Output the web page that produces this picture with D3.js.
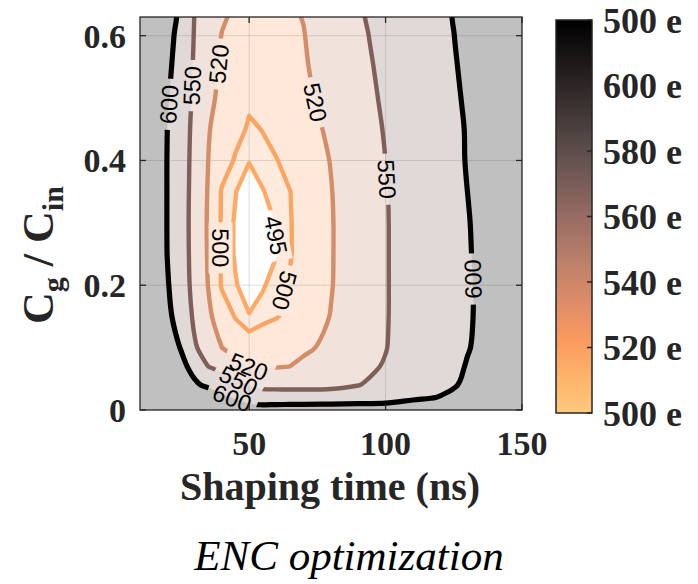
<!DOCTYPE html>
<html>
<head>
<meta charset="utf-8">
<script src="https://cdn.jsdelivr.net/npm/d3@7"></script>
<style>
  html, body { margin: 0; padding: 0; background: #ffffff; }
  svg { display: block; }
</style>
</head>
<body>
<svg id="chart" width="698" height="584"></svg>
<script>
// Shaping time (ns) sampled along the grid columns
const shapingTimes = [10, 20, 25, 30, 35, 40, 45, 50, 55, 60, 65, 70, 80, 90, 100, 110, 120, 130, 140, 150];
// Cg / Cin sampled along the grid rows (bottom to top)
const capRatios = [0, 0.02, 0.04, 0.07, 0.1, 0.15, 0.2, 0.25, 0.3, 0.35, 0.4, 0.45, 0.5, 0.55, 0.6, 0.65];
// ENC (electrons), one row per Cg/Cin value, one entry per shaping time
const encByRow = [
  [800, 760, 740, 720, 700, 680, 640, 615, 618, 620, 621, 622, 625, 621, 617, 625, 640, 650, 660, 670],
  [760, 710, 685, 660, 635, 610, 594.2, 584.6, 575, 574.4, 573.8, 573.2, 572, 579.3, 586.5, 593.8, 601.2, 609.1, 617.1, 625],
  [720, 664.2, 636.3, 608.4, 590, 575.7, 561.4, 547.5, 538, 537, 537, 537, 540, 549, 563.2, 577.8, 592.4, 604.3, 613.1, 622],
  [700, 642.9, 614.3, 582.9, 549.5, 538.2, 526.8, 519.5, 518.3, 518.9, 520, 524.4, 533.3, 542.2, 552, 568.9, 585.7, 601.7, 612.8, 624],
  [690, 628.8, 597.4, 553.5, 535.6, 520, 512.5, 505, 507.9, 510.8, 513.7, 516.5, 524.8, 536.9, 549, 565.3, 581.9, 598.5, 611.9, 625],
  [686, 612.5, 575.7, 544, 524, 509.6, 499, 495.3, 497.3, 499.2, 503.4, 509.1, 520.7, 534.4, 548.2, 564.2, 580.5, 596.8, 612.2, 626],
  [686, 604.1, 567.9, 539.9, 519.5, 498.3, 495.4, 492.5, 494.4, 497.3, 501.2, 507.1, 519, 533.5, 548.1, 564.2, 580.5, 596.8, 612.4, 628],
  [688, 599.3, 565.5, 538.9, 518.1, 498.2, 494.4, 490.5, 492.8, 494.8, 499.2, 505.3, 518.7, 533.3, 548.1, 564.4, 581, 597.5, 614.2, 631],
  [690, 598.6, 564.9, 538.5, 517.7, 498.2, 494.4, 490, 492.7, 495.3, 499.3, 505.3, 518.7, 533.3, 548.1, 564.6, 581.5, 598.3, 615.2, 632],
  [690, 598.7, 565.3, 539.1, 518.5, 498.6, 495.2, 491.5, 494.7, 497.3, 499.8, 506, 519.3, 533.9, 548.5, 565.5, 582.8, 600, 617, 634],
  [692, 598.7, 566.2, 540, 520, 507.3, 498.6, 495.3, 497.4, 499.5, 504.2, 509.6, 520.7, 535.4, 550, 567.2, 584.4, 601.6, 618.8, 636],
  [694, 600, 567.9, 541.2, 521.2, 512.4, 504.2, 498.5, 500.3, 504.6, 508.9, 513.2, 523.1, 537.3, 551.7, 568.4, 585.1, 602, 620, 638],
  [696, 604.6, 571.2, 543.6, 524.9, 515.1, 508.6, 502, 505.5, 509.1, 512.6, 516.1, 526.1, 539.7, 554, 570.5, 587.1, 604, 622, 640],
  [698, 611.3, 575.3, 545.9, 528.6, 517, 511, 505, 508.3, 511.5, 514.8, 518, 529.1, 542, 556.3, 572.7, 589.2, 606.1, 624.1, 642],
  [700, 618.7, 580.7, 547.9, 533.1, 519.3, 513.7, 508, 510.9, 513.7, 516.6, 519.4, 531.5, 544.4, 559, 575.1, 591.2, 608.1, 626, 644],
  [702, 626.4, 588.5, 550, 537.5, 525, 516.6, 511, 513.4, 515.7, 518.1, 521.3, 533.8, 546.3, 560.9, 576.6, 592.2, 609.2, 627.6, 646]
];

const contourLevels = [495, 500, 520, 550, 600];

const xTicks = [50, 100, 150];
const yTicks = [0, 0.2, 0.4, 0.6];
const yTickLabels = ["0", "0.2", "0.4", "0.6"];

const colorbarTicks = [500, 520, 540, 560, 580, 600, 620];
const colorbarTickLabels = ["500 e", "520 e", "540 e", "560 e", "580 e", "600 e", "500 e"];

// ---- styling ----
const lineColors = { 495: "#fdaa66", 500: "#fba563", 520: "#d38d69", 550: "#7e6059", 600: "#000000" };
const lineWidths = { 495: 4.4, 500: 4.4, 520: 4.4, 550: 4.4, 600: 5.2 };
const bandFills = { 495: "#feebdd", 500: "#fde8da", 520: "#f2e2dc", 550: "#e1d9d7", 600: "#c0c0c0" };
// outer levels are drawn as smooth curves, the two innermost keep their straight segments
const smoothLevels = [520, 550, 600];
const colormapStops = [
  [500, "#ffca7e"], [510, "#feb56c"], [522, "#fb9b5f"], [532, "#e38e67"],
  [545, "#bf816a"], [560, "#976c64"], [580, "#5d4e4b"], [600, "#2d2626"], [620, "#000000"]
];

// where along each contour its inline label sits (shaping time, Cg/Cin) and reading direction
const labelAnchors = [
  { level: 600, t: 20.6, r: 0.49,  read: "up" },
  { level: 550, t: 28.6, r: 0.52,  read: "up" },
  { level: 520, t: 38.3, r: 0.555, read: "up" },
  { level: 520, t: 76.0, r: 0.495, read: "down" },
  { level: 550, t: 100.5, r: 0.37, read: "down" },
  { level: 600, t: 132.3, r: 0.21, read: "up" },
  { level: 500, t: 38.8, r: 0.26,  read: "down" },
  { level: 495, t: 59.6, r: 0.28,  read: "down" },
  { level: 500, t: 64.5, r: 0.19,  read: "down" },
  { level: 520, t: 49.8, r: 0.069, read: "right" },
  { level: 550, t: 45.5, r: 0.042, read: "right" },
  { level: 600, t: 43.7, r: 0.018, read: "right" }
];

const svg = d3.select("#chart");
const plot = { left: 140, right: 522, top: 17, bottom: 410 };
const x = d3.scaleLinear().domain([10, 150]).range([plot.left, plot.right]);
const y = d3.scaleLinear().domain([0, 0.63]).range([plot.bottom, plot.top]);

const nx = shapingTimes.length, ny = capRatios.length;
// grid index space (values at cell centres) -> data space
const colToT = d3.scaleLinear().domain(shapingTimes.map((_, i) => i + 0.5)).range(shapingTimes);
const rowToR = d3.scaleLinear().domain(capRatios.map((_, i) => i + 0.5)).range(capRatios);
const toPx = ([c, r]) => [x(colToT(c)), y(rowToR(r))];

const contours = d3.contours().size([nx, ny]).smooth(true).thresholds(contourLevels)(encByRow.flat());

// every ring of every contour, in pixel space, without the repeated closing point
contours.forEach(c => {
  c.rings = [];
  c.coordinates.forEach(poly => poly.forEach(ring => {
    const pts = ring.map(toPx);
    const a = pts[0], b = pts[pts.length - 1];
    if (pts.length > 1 && a[0] === b[0] && a[1] === b[1]) pts.pop();
    c.rings.push(pts);
  }));
});
const ringPath = level => d3.line().curve(
  smoothLevels.includes(level) ? d3.curveCatmullRomClosed.alpha(0.5) : d3.curveLinearClosed
);
const contourPath = c => c.rings.map(r => ringPath(c.value)(r)).join("");

const defs = svg.append("defs");
defs.append("clipPath").attr("id", "plotClip")
  .append("rect")
  .attr("x", plot.left).attr("y", plot.top)
  .attr("width", plot.right - plot.left).attr("height", plot.bottom - plot.top);

// ---- filled bands ----
const area = svg.append("g").attr("clip-path", "url(#plotClip)");
area.append("rect")
  .attr("x", plot.left).attr("y", plot.top)
  .attr("width", plot.right - plot.left).attr("height", plot.bottom - plot.top)
  .attr("fill", "#ffffff");
area.selectAll("path.band").data(contours).join("path")
  .attr("class", "band")
  .attr("d", contourPath)
  .attr("fill", d => bandFills[d.value])
  .attr("fill-rule", "evenodd");

// ---- grid ----
area.selectAll("line.gx").data(xTicks).join("line")
  .attr("x1", d => x(d)).attr("x2", d => x(d))
  .attr("y1", plot.top).attr("y2", plot.bottom)
  .attr("stroke", "#262626").attr("stroke-opacity", 0.15).attr("stroke-width", 1);
area.selectAll("line.gy").data(yTicks).join("line")
  .attr("x1", plot.left).attr("x2", plot.right)
  .attr("y1", d => y(d)).attr("y2", d => y(d))
  .attr("stroke", "#262626").attr("stroke-opacity", 0.15).attr("stroke-width", 1);

// ---- contour labels (placed on the computed lines) ----
const labelGroup = svg.append("g");
const gaps = [];
labelAnchors.forEach(spec => {
  const c = contours.find(d => d.value === spec.level);
  const target = [x(spec.t), y(spec.r)];
  let best = null;
  c.rings.forEach(pts => {
    const n = pts.length;
    for (let i = 0; i < n; i++) {
      const a = pts[i], b = pts[(i + 1) % n];
      const dx = b[0] - a[0], dy = b[1] - a[1];
      const L2 = dx * dx + dy * dy;
      if (!L2) continue;
      let u = ((target[0] - a[0]) * dx + (target[1] - a[1]) * dy) / L2;
      u = Math.max(0, Math.min(1, u));
      const p = [a[0] + u * dx, a[1] + u * dy];
      const dist = Math.hypot(p[0] - target[0], p[1] - target[1]);
      if (!best || dist < best.dist) {
        const pa = pts[(i - 1 + n) % n], pb = pts[(i + 2) % n];
        best = { dist, p, dx: pb[0] - pa[0], dy: pb[1] - pa[1] };
      }
    }
  });
  let ang = Math.atan2(best.dy, best.dx) * 180 / Math.PI;
  if (spec.read === "up" && best.dy > 0) ang += 180;
  if (spec.read === "down" && best.dy < 0) ang += 180;
  if (spec.read === "right" && best.dx < 0) ang += 180;
  const t = labelGroup.append("text")
    .attr("transform", `translate(${best.p[0]},${best.p[1]}) rotate(${ang})`)
    .attr("text-anchor", "middle")
    .attr("dy", "0.36em")
    .attr("font-family", "'Liberation Sans', Arial, sans-serif")
    .attr("font-size", 23.5)
    .attr("fill", "#000000")
    .text(spec.level);
  gaps.push({ p: best.p, ang, w: t.node().getComputedTextLength() + 12 });
});

// mask punches gaps in the contour lines where labels sit
const mask = defs.append("mask").attr("id", "gapMask")
  .attr("maskUnits", "userSpaceOnUse")
  .attr("x", 0).attr("y", 0).attr("width", 698).attr("height", 584);
mask.append("rect").attr("x", 0).attr("y", 0).attr("width", 698).attr("height", 584).attr("fill", "#ffffff");
mask.selectAll("rect.gap").data(gaps).join("rect")
  .attr("class", "gap")
  .attr("x", d => -d.w / 2).attr("y", -12)
  .attr("width", d => d.w).attr("height", 24)
  .attr("transform", d => `translate(${d.p[0]},${d.p[1]}) rotate(${d.ang})`)
  .attr("fill", "#000000");

const lines = svg.insert("g", () => labelGroup.node())
  .attr("clip-path", "url(#plotClip)")
  .append("g").attr("mask", "url(#gapMask)");
lines.selectAll("path").data(contours).join("path")
  .attr("d", contourPath)
  .attr("fill", "none")
  .attr("stroke", d => lineColors[d.value])
  .attr("stroke-width", d => lineWidths[d.value])
  .attr("stroke-linejoin", "round");

// ---- frame and ticks ----
const axisColor = "#262626";
const frame = svg.append("g");
frame.append("rect")
  .attr("x", plot.left).attr("y", plot.top)
  .attr("width", plot.right - plot.left).attr("height", plot.bottom - plot.top)
  .attr("fill", "none").attr("stroke", axisColor).attr("stroke-width", 1.3);
const tickLen = 6;
xTicks.forEach(v => {
  frame.append("line").attr("x1", x(v)).attr("x2", x(v)).attr("y1", plot.bottom).attr("y2", plot.bottom - tickLen).attr("stroke", axisColor).attr("stroke-width", 1.3);
  frame.append("line").attr("x1", x(v)).attr("x2", x(v)).attr("y1", plot.top).attr("y2", plot.top + tickLen).attr("stroke", axisColor).attr("stroke-width", 1.3);
});
yTicks.forEach(v => {
  frame.append("line").attr("x1", plot.left).attr("x2", plot.left + tickLen).attr("y1", y(v)).attr("y2", y(v)).attr("stroke", axisColor).attr("stroke-width", 1.3);
  frame.append("line").attr("x1", plot.right).attr("x2", plot.right - tickLen).attr("y1", y(v)).attr("y2", y(v)).attr("stroke", axisColor).attr("stroke-width", 1.3);
});

const serif = "'Liberation Serif', 'Times New Roman', serif";
svg.append("g").selectAll("text").data(xTicks).join("text")
  .attr("x", d => x(d)).attr("y", 455)
  .attr("text-anchor", "middle")
  .attr("font-family", serif).attr("font-weight", "bold").attr("font-size", 34)
  .attr("fill", "#262626")
  .text(d => d);
svg.append("g").selectAll("text").data(yTicks).join("text")
  .attr("x", 126).attr("y", d => y(d))
  .attr("dy", "0.35em")
  .attr("text-anchor", "end")
  .attr("font-family", serif).attr("font-weight", "bold").attr("font-size", 34)
  .attr("fill", "#262626")
  .text((d, i) => yTickLabels[i]);

// axis titles
svg.append("text")
  .attr("x", 330).attr("y", 500)
  .attr("text-anchor", "middle")
  .attr("font-family", serif).attr("font-weight", "bold").attr("font-size", 40)
  .attr("fill", "#262626")
  .text("Shaping time (ns)");

const yTitle = svg.append("text")
  .attr("transform", "translate(53,255) rotate(-90)")
  .attr("text-anchor", "middle")
  .attr("font-family", serif).attr("font-weight", "bold").attr("font-size", 44)
  .attr("fill", "#262626");
yTitle.append("tspan").text("C");
yTitle.append("tspan").attr("font-size", 30).attr("dy", 10).text("g");
yTitle.append("tspan").attr("dy", -10).text(" / C");
yTitle.append("tspan").attr("font-size", 30).attr("dy", 10).text("in");

svg.append("text")
  .attr("x", 349).attr("y", 570)
  .attr("text-anchor", "middle")
  .attr("font-family", serif).attr("font-style", "italic").attr("font-size", 43)
  .attr("fill", "#000000")
  .text("ENC optimization");

// ---- colorbar ----
const cb = { left: 556, right: 592, top: 20, bottom: 413 };
const cbScale = d3.scaleLinear().domain([500, 620]).range([cb.bottom, cb.top]);
const grad = defs.append("linearGradient").attr("id", "cbGrad")
  .attr("gradientUnits", "userSpaceOnUse")
  .attr("x1", 0).attr("x2", 0).attr("y1", cb.bottom).attr("y2", cb.top);
grad.selectAll("stop").data(colormapStops).join("stop")
  .attr("offset", d => (d[0] - 500) / 120)
  .attr("stop-color", d => d[1]);
svg.append("rect")
  .attr("x", cb.left).attr("y", cb.top)
  .attr("width", cb.right - cb.left).attr("height", cb.bottom - cb.top)
  .attr("fill", "url(#cbGrad)")
  .attr("stroke", axisColor).attr("stroke-width", 1.5);
svg.append("g").selectAll("line").data(colorbarTicks).join("line")
  .attr("x1", cb.right - 5).attr("x2", cb.right)
  .attr("y1", d => cbScale(d)).attr("y2", d => cbScale(d))
  .attr("stroke", axisColor).attr("stroke-width", 1.5);
svg.append("g").selectAll("text").data(colorbarTicks).join("text")
  .attr("x", 603).attr("y", d => cbScale(d))
  .attr("dy", "0.35em")
  .attr("font-family", serif).attr("font-weight", "bold").attr("font-size", 36)
  .attr("fill", "#262626")
  .text((d, i) => colorbarTickLabels[i]);
</script>
</body>
</html>
